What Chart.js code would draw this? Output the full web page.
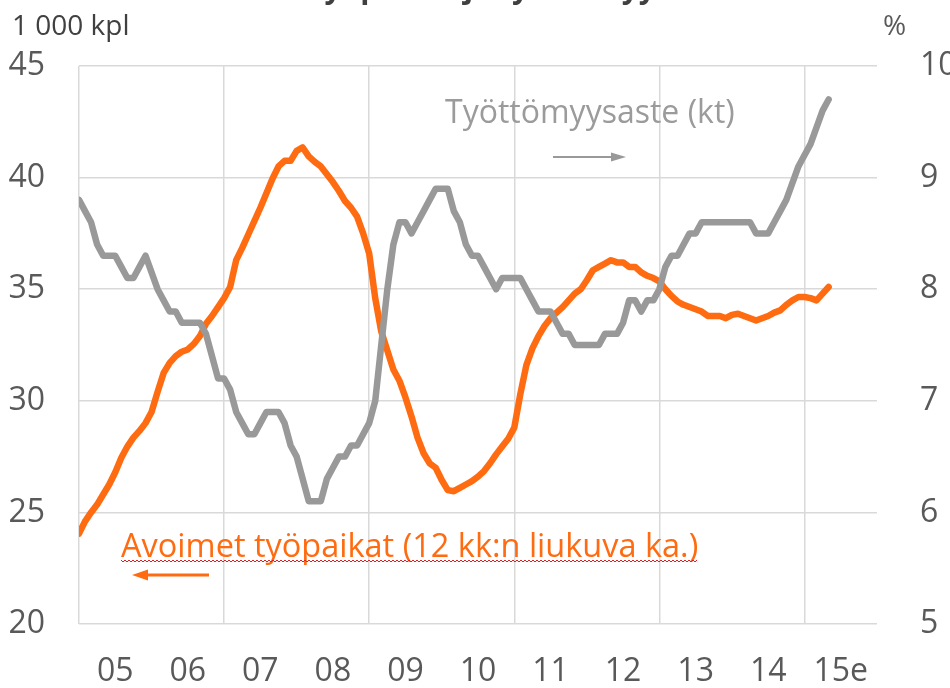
<!DOCTYPE html>
<html>
<head>
<meta charset="utf-8">
<script src="https://cdn.jsdelivr.net/npm/chart.js@4"></script>
<style>
    html, body { margin: 0; padding: 0; background: #ffffff; }
    #wrap { width: 950px; height: 688px; }
</style>
</head>
<body>
<div id="wrap"><canvas id="vacancyChart" width="950" height="688"></canvas></div>
<script>
// ---------------- Data (monthly, Jan 2005 ->) ----------------
const yearLabels = ["05", "06", "07", "08", "09", "10", "11", "12", "13", "14", "15e"];

// Avoimet työpaikat, 12 kk:n liukuva ka. (1 000 kpl, left axis)
const openVacancies = [
    24.05, 24.6, 25.0, 25.35, 25.8, 26.25, 26.8, 27.45, 27.95, 28.35, 28.65, 29.0,
    29.5, 30.4, 31.25, 31.7, 32.0, 32.2, 32.3, 32.55, 32.9, 33.45, 33.8, 34.2,
    34.6, 35.1, 36.3, 36.85, 37.45, 38.05, 38.65, 39.3, 39.95, 40.5, 40.75, 40.75,
    41.2, 41.35, 40.95, 40.7, 40.5, 40.15, 39.8, 39.4, 38.95, 38.65, 38.25, 37.5,
    36.6, 34.6, 33.1, 32.25, 31.4, 30.9, 30.15, 29.3, 28.35, 27.65, 27.2, 27.0,
    26.45, 26.0, 25.95, 26.1, 26.25, 26.4, 26.6, 26.85, 27.2, 27.6, 27.95, 28.3,
    28.8, 30.3, 31.6, 32.35, 32.9, 33.35, 33.7, 33.95, 34.2, 34.5, 34.8, 35.0,
    35.4, 35.85, 36.0, 36.15, 36.3, 36.2, 36.2, 36.0, 36.0, 35.75, 35.6, 35.5,
    35.35, 35.0, 34.7, 34.45, 34.3, 34.2, 34.1, 34.0, 33.8, 33.8, 33.8, 33.7,
    33.85, 33.9, 33.8, 33.7, 33.6, 33.7, 33.8, 33.95, 34.05, 34.3, 34.5, 34.65,
    34.65, 34.6, 34.5, 34.8, 35.1
];

// Työttömyysaste, trendi (%, right axis)
const unemploymentRate = [
    8.8, 8.7, 8.6, 8.4, 8.3, 8.3, 8.3, 8.2, 8.1, 8.1, 8.2, 8.3,
    8.15, 8.0, 7.9, 7.8, 7.8, 7.7, 7.7, 7.7, 7.7, 7.6, 7.4, 7.2,
    7.2, 7.1, 6.9, 6.8, 6.7, 6.7, 6.8, 6.9, 6.9, 6.9, 6.8, 6.6,
    6.5, 6.3, 6.1, 6.1, 6.1, 6.3, 6.4, 6.5, 6.5, 6.6, 6.6, 6.7,
    6.8, 7.0, 7.5, 8.0, 8.4, 8.6, 8.6, 8.5, 8.6, 8.7, 8.8, 8.9,
    8.9, 8.9, 8.7, 8.6, 8.4, 8.3, 8.3, 8.2, 8.1, 8.0, 8.1, 8.1,
    8.1, 8.1, 8.0, 7.9, 7.8, 7.8, 7.8, 7.7, 7.6, 7.6, 7.5, 7.5,
    7.5, 7.5, 7.5, 7.6, 7.6, 7.6, 7.7, 7.9, 7.9, 7.8, 7.9, 7.9,
    8.0, 8.2, 8.3, 8.3, 8.4, 8.5, 8.5, 8.6, 8.6, 8.6, 8.6, 8.6,
    8.6, 8.6, 8.6, 8.6, 8.5, 8.5, 8.5, 8.6, 8.7, 8.8, 8.95, 9.1,
    9.2, 9.3, 9.45, 9.6, 9.7
];

const ORANGE = "#ff6b10";
const GREY = "#999999";
const TEXT = "#595959";
const FONT = "'Open Sans', 'DejaVu Sans', sans-serif";

// ---------------- Text boxes & arrows ----------------
const notes = {
    id: "notes",
    afterDraw(chart) {
        const ctx = chart.ctx;
        ctx.save();

        // cut-off title at the very top
        ctx.fillStyle = "#404040";
        ctx.font = "bold 30px " + FONT;
        ctx.textAlign = "left";
        ctx.textBaseline = "alphabetic";
        ctx.fillText("Avoimet työpaikat ja työttömyysaste", 178, -2);

        // unit labels
        ctx.font = "28px " + FONT;
        ctx.fillStyle = "#404040";
        ctx.fillText("1 000 kpl", 12, 35);
        ctx.fillStyle = TEXT;
        ctx.fillText("%", 883, 35);

        // unemployment note + arrow
        ctx.fillStyle = "#9b9b9b";
        ctx.font = "32px " + FONT;
        ctx.fillText("Työttömyysaste (kt)", 445, 123);
        ctx.strokeStyle = GREY;
        ctx.lineWidth = 2;
        ctx.beginPath();
        ctx.moveTo(553, 157);
        ctx.lineTo(613, 157);
        ctx.stroke();
        ctx.fillStyle = GREY;
        ctx.beginPath();
        ctx.moveTo(626, 157);
        ctx.lineTo(611, 152.5);
        ctx.lineTo(611, 161.5);
        ctx.closePath();
        ctx.fill();

        // vacancies note + red wavy underline + arrow
        const note = "Avoimet työpaikat (12 kk:n liukuva ka.)";
        ctx.fillStyle = ORANGE;
        ctx.font = "32.5px " + FONT;
        ctx.fillText(note, 121, 557);
        const w = ctx.measureText(note).width;
        ctx.strokeStyle = "#e02020";
        ctx.lineWidth = 1;
        ctx.beginPath();
        for (let x = 121, k = 0; x <= 121 + w; x += 2, k++) {
            const y = 561 + (k % 2 === 0 ? -1 : 1);
            if (k === 0) ctx.moveTo(x, y); else ctx.lineTo(x, y);
        }
        ctx.stroke();

        ctx.strokeStyle = ORANGE;
        ctx.lineWidth = 3;
        ctx.beginPath();
        ctx.moveTo(209, 575);
        ctx.lineTo(146, 575);
        ctx.stroke();
        ctx.fillStyle = ORANGE;
        ctx.beginPath();
        ctx.moveTo(132, 575);
        ctx.lineTo(148, 569.5);
        ctx.lineTo(148, 580.5);
        ctx.closePath();
        ctx.fill();

        ctx.restore();
    }
};

const ctx = document.getElementById("vacancyChart").getContext("2d");

new Chart(ctx, {
    type: "line",
    data: {
        datasets: [
            {
                label: "Työttömyysaste (kt)",
                data: unemploymentRate.map((v, i) => ({ x: i, y: v })),
                yAxisID: "y2",
                borderColor: GREY,
                borderWidth: 6.5,
                pointRadius: 0,
                tension: 0,
                borderJoinStyle: "round",
                borderCapStyle: "round",
                order: 0
            },
            {
                label: "Avoimet työpaikat (12 kk:n liukuva ka.)",
                data: openVacancies.map((v, i) => ({ x: i, y: v })),
                yAxisID: "y",
                borderColor: ORANGE,
                borderWidth: 6.5,
                pointRadius: 0,
                tension: 0,
                borderJoinStyle: "round",
                borderCapStyle: "round",
                order: 1
            }
        ]
    },
    options: {
        responsive: false,
        animation: false,
        devicePixelRatio: 1,
        layout: { padding: { top: 66, left: 0, right: 0, bottom: 0 } },
        plugins: {
            legend: { display: false },
            tooltip: { enabled: false }
        },
        scales: {
            x: {
                type: "linear",
                min: 0,
                max: 132,
                border: { display: false },
                grid: {
                    drawTicks: false,
                    lineWidth: 1.5,
                    color: c => (c.tick && c.tick.value % 24 === 0) ? "#d9d9d9" : "rgba(0,0,0,0)"
                },
                ticks: {
                    stepSize: 6,
                    autoSkip: false,
                    maxRotation: 0,
                    padding: 29,
                    color: TEXT,
                    font: { family: FONT, size: 32 },
                    callback: v => (v % 12 === 6) ? yearLabels[(v - 6) / 12] : ""
                },
                afterFit: s => { s.height = 64; }
            },
            y: {
                position: "left",
                min: 20,
                max: 45,
                border: { display: false },
                grid: { drawTicks: false, lineWidth: 1.5, color: "#d9d9d9" },
                ticks: {
                    stepSize: 5,
                    padding: 34,
                    color: TEXT,
                    font: { family: FONT, size: 32 }
                },
                afterFit: s => { s.width = 79; }
            },
            y2: {
                position: "right",
                min: 5,
                max: 10,
                border: { display: false },
                grid: { display: false },
                ticks: {
                    stepSize: 1,
                    padding: 35,
                    color: TEXT,
                    font: { family: FONT, size: 32 }
                },
                afterFit: s => { s.width = 73; }
            }
        }
    },
    plugins: [notes]
});
</script>
</body>
</html>
